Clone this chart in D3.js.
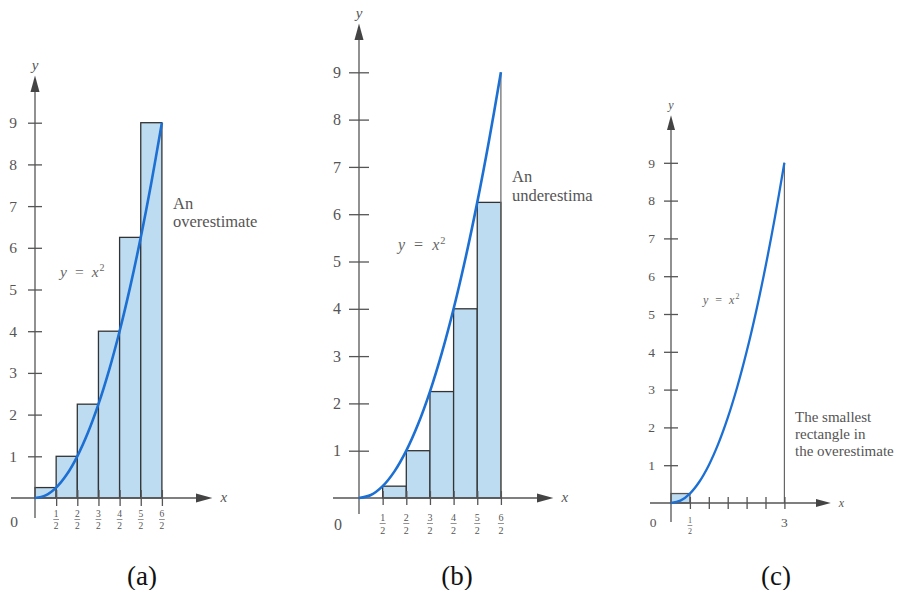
<!DOCTYPE html>
<html><head><meta charset="utf-8">
<script src="https://cdn.jsdelivr.net/npm/d3@7"></script>
<style>body{margin:0;background:#fff}svg{display:block}
svg text{font-family:"Liberation Serif","Times New Roman","DejaVu Serif",serif !important}</style>
</head><body>
<svg id="c" width="899" height="590"></svg>
<script>
// ---- data ----
const yTickValues = [1,2,3,4,5,6,7,8,9];
const halfNumerators = [1,2,3,4,5,6];          // tick labels n/2
const halfTickX = [0.5,1,1.5,2,2.5,3];
const cTickX = [0.5,1,1.5,2,2.5,3];
const rectLefts = [0,0.5,1,1.5,2,2.5];
const overHeights = [0.25,1,2.25,4,6.25,9];      // right endpoints
const underHeights = [0,0.25,1,2.25,4,6.25];     // left endpoints
const smallestLeft = [0];
const smallestHeight = [0.25];
const curveX = [0,0.25,0.5,0.75,1,1.25,1.5,1.75,2,2.25,2.5,2.75,3];
const curveY = [0,0.0625,0.25,0.5625,1,1.5625,2.25,3.0625,4,5.0625,6.25,7.5625,9];
const captions = ["(a)","(b)","(c)"];

const svg = d3.select("#c");
const AX = "#555", FILL = "#bddcf2", BLUE = "#1c6fd3";

svg.append("defs").append("clipPath").attr("id","clipB")
  .append("rect").attr("x",300).attr("y",0).attr("width",293).attr("height",560);

function panel(cfg){
  const g = svg.append("g");
  const x = d3.scaleLinear().domain([0,3]).range([cfg.ox, cfg.ox+3*cfg.ux]);
  const y = d3.scaleLinear().domain([0,9]).range([cfg.oy, cfg.oy-9*cfg.uy]);
  const rects = cfg.rects;
  g.selectAll("rect.bar").data(rects.lefts.map((l,i)=>({l,h:rects.heights[i]})).filter(d=>d.h>0))
    .join("rect").attr("class","bar")
    .attr("x",d=>x(d.l)).attr("width",d=>x(d.l+0.5)-x(d.l))
    .attr("y",d=>y(d.h)).attr("height",d=>y(0)-y(d.h))
    .attr("fill",FILL).attr("stroke",cfg.rectStroke||"#333").attr("stroke-width",1.3);
  if(cfg.vline){
    g.append("line").attr("x1",x(3)).attr("x2",x(3)).attr("y1",y(0)).attr("y2",y(9))
      .attr("stroke","#666").attr("stroke-width",1.2);
  }
  g.append("line").attr("x1",cfg.xStart).attr("x2",cfg.xEnd).attr("y1",y(0)).attr("y2",y(0))
    .attr("stroke",AX).attr("stroke-width",1.3);
  g.append("line").attr("x1",x(0)).attr("x2",x(0)).attr("y1",cfg.yBottom).attr("y2",cfg.yTop)
    .attr("stroke",AX).attr("stroke-width",1.3);
  const a = cfg.arrow;
  g.append("path").attr("d",`M${cfg.xEnd+a*1.6},${y(0)} L${cfg.xEnd-2},${y(0)-a/2} L${cfg.xEnd-2},${y(0)+a/2}Z`).attr("fill","#444");
  g.append("path").attr("d",`M${x(0)},${cfg.yTop-a*1.6} L${x(0)-a/2},${cfg.yTop+2} L${x(0)+a/2},${cfg.yTop+2}Z`).attr("fill","#444");
  g.append("text").attr("x",cfg.xEnd+a*1.6+8).attr("y",y(0)+4).text("x")
    .attr("font-style","italic").attr("font-size",cfg.axisLab).attr("fill","#555");
  g.append("text").attr("x",x(0)).attr("y",cfg.yTop-a*1.6-6).attr("text-anchor","middle").text("y")
    .attr("font-style","italic").attr("font-size",cfg.axisLab).attr("fill","#555");
  const ya = g.append("g").attr("transform",`translate(${x(0)},0)`)
    .call(d3.axisLeft(y).tickValues(yTickValues).tickSize(cfg.yt).tickPadding(cfg.ypad));
  ya.select(".domain").remove();
  ya.selectAll(".tick line").attr("x1",-cfg.yt).attr("x2",cfg.yt).attr("stroke",AX).attr("stroke-width",1.3);
  ya.selectAll(".tick text").attr("font-size",cfg.yfs).attr("fill","#555");
  const xa = g.append("g").attr("transform",`translate(0,${y(0)})`)
    .call(d3.axisBottom(x).tickValues(cfg.xticks).tickSize(cfg.xt).tickFormat(""));
  xa.select(".domain").remove();
  xa.selectAll(".tick line").attr("y1",-cfg.xt).attr("y2",cfg.xt).attr("stroke",AX).attr("stroke-width",1.3);
  g.append("text").attr("x",cfg.zeroX).attr("y",y(0)+cfg.zeroDy).attr("text-anchor","middle").text("0")
    .attr("font-size",cfg.yfs).attr("fill","#555");
  cfg.fracs.forEach(f=>{
    const cx = x(f.v), top = y(0)+cfg.fracDy;
    g.append("text").attr("x",cx).attr("y",top).attr("text-anchor","middle").text(f.n)
      .attr("font-size",cfg.ffs).attr("fill","#555");
    g.append("line").attr("x1",cx-cfg.ffs*0.3).attr("x2",cx+cfg.ffs*0.3).attr("y1",top+2.5).attr("y2",top+2.5)
      .attr("stroke","#777").attr("stroke-width",0.8);
    g.append("text").attr("x",cx).attr("y",top+cfg.ffs+2.5).attr("text-anchor","middle").text("2")
      .attr("font-size",cfg.ffs).attr("fill","#555");
  });
  (cfg.plainX||[]).forEach(p=>{
    g.append("text").attr("x",x(p.v)).attr("y",y(0)+cfg.zeroDy).attr("text-anchor","middle").text(p.t)
      .attr("font-size",cfg.yfs).attr("fill","#555");
  });
  const line = d3.line().x(d=>x(d[0])).y(d=>y(d[1])).curve(d3.curveCatmullRom);
  g.append("path").attr("d",line(curveX.map((v,i)=>[v,curveY[i]])))
    .attr("fill","none").attr("stroke",BLUE).attr("stroke-width",cfg.cw);
  const lab = g.append("text").attr("x",cfg.eqX).attr("y",cfg.eqY)
    .attr("font-size",cfg.eqfs).attr("fill","#666");
  lab.append("tspan").attr("font-style","italic").text("y");
  lab.append("tspan").attr("dx",cfg.eqGap).text("=");
  lab.append("tspan").attr("dx",cfg.eqGap).attr("font-style","italic").text("x");
  lab.append("tspan").attr("dx",1).attr("dy",-cfg.eqfs*0.4).attr("font-size",cfg.eqfs*0.65).text("2");
  const note = g.append("g");
  if(cfg.clip) note.attr("clip-path","url(#clipB)");
  cfg.note.forEach((t,i)=>{
    note.append("text").attr("x",cfg.noteX).attr("y",cfg.noteY+i*cfg.noteLH).text(t)
      .attr("font-size",cfg.nfs).attr("fill","#555");
  });
  return g;
}

panel({ox:35, oy:498, ux:42.3, uy:41.7, rects:{lefts:rectLefts,heights:overHeights},
  xStart:11, xEnd:198, yBottom:518, yTop:90, arrow:9, axisLab:15,
  yt:7, ypad:11, yfs:15.5, xt:8, xticks:halfTickX, zeroX:14, zeroDy:29,
  fracs:halfNumerators.map((n,i)=>({n, v:halfTickX[i]})), fracDy:19, ffs:9.5,
  cw:2.6, eqX:60, eqY:277, eqfs:15.5, eqGap:8, note:["An","overestimate"], noteX:173, noteY:209, noteLH:18, nfs:16.5});

panel({ox:359, oy:498, ux:47.3, uy:47.3, rects:{lefts:rectLefts,heights:underHeights}, vline:true,
  xStart:333, xEnd:539, yBottom:514, yTop:38, arrow:9, axisLab:15,
  yt:10, ypad:8, yfs:16, xt:7, xticks:halfTickX, zeroX:338, zeroDy:32,
  fracs:halfNumerators.map((n,i)=>({n, v:halfTickX[i]})), fracDy:23, ffs:10,
  cw:2.6, eqX:398, eqY:250, eqfs:16, eqGap:9, note:["An","underestimate"], noteX:512, noteY:182, noteLH:19, nfs:16.5, clip:true});

panel({ox:671, oy:503, ux:37.8, uy:37.8, rects:{lefts:smallestLeft,heights:smallestHeight}, vline:true, rectStroke:"#555",
  xStart:650, xEnd:818, yBottom:522, yTop:128, arrow:8, axisLab:12,
  yt:7, ypad:9, yfs:13.5, xt:6, xticks:cTickX, zeroX:653, zeroDy:24,
  fracs:[{n:1, v:0.5}], fracDy:20, ffs:8,
  plainX:[{v:3,t:"3"}],
  cw:2.3, eqX:703, eqY:304, eqfs:12, eqGap:7, note:["The smallest","rectangle in","the overestimate"], noteX:795, noteY:422, noteLH:17, nfs:15});

const capX = [142, 457, 776];
svg.selectAll("text.cap").data(captions).join("text").attr("class","cap")
  .attr("x",(d,i)=>capX[i]).attr("y",585).attr("text-anchor","middle").text(d=>d)
  .attr("font-size",27).attr("fill","#111");
</script>
</body></html>
